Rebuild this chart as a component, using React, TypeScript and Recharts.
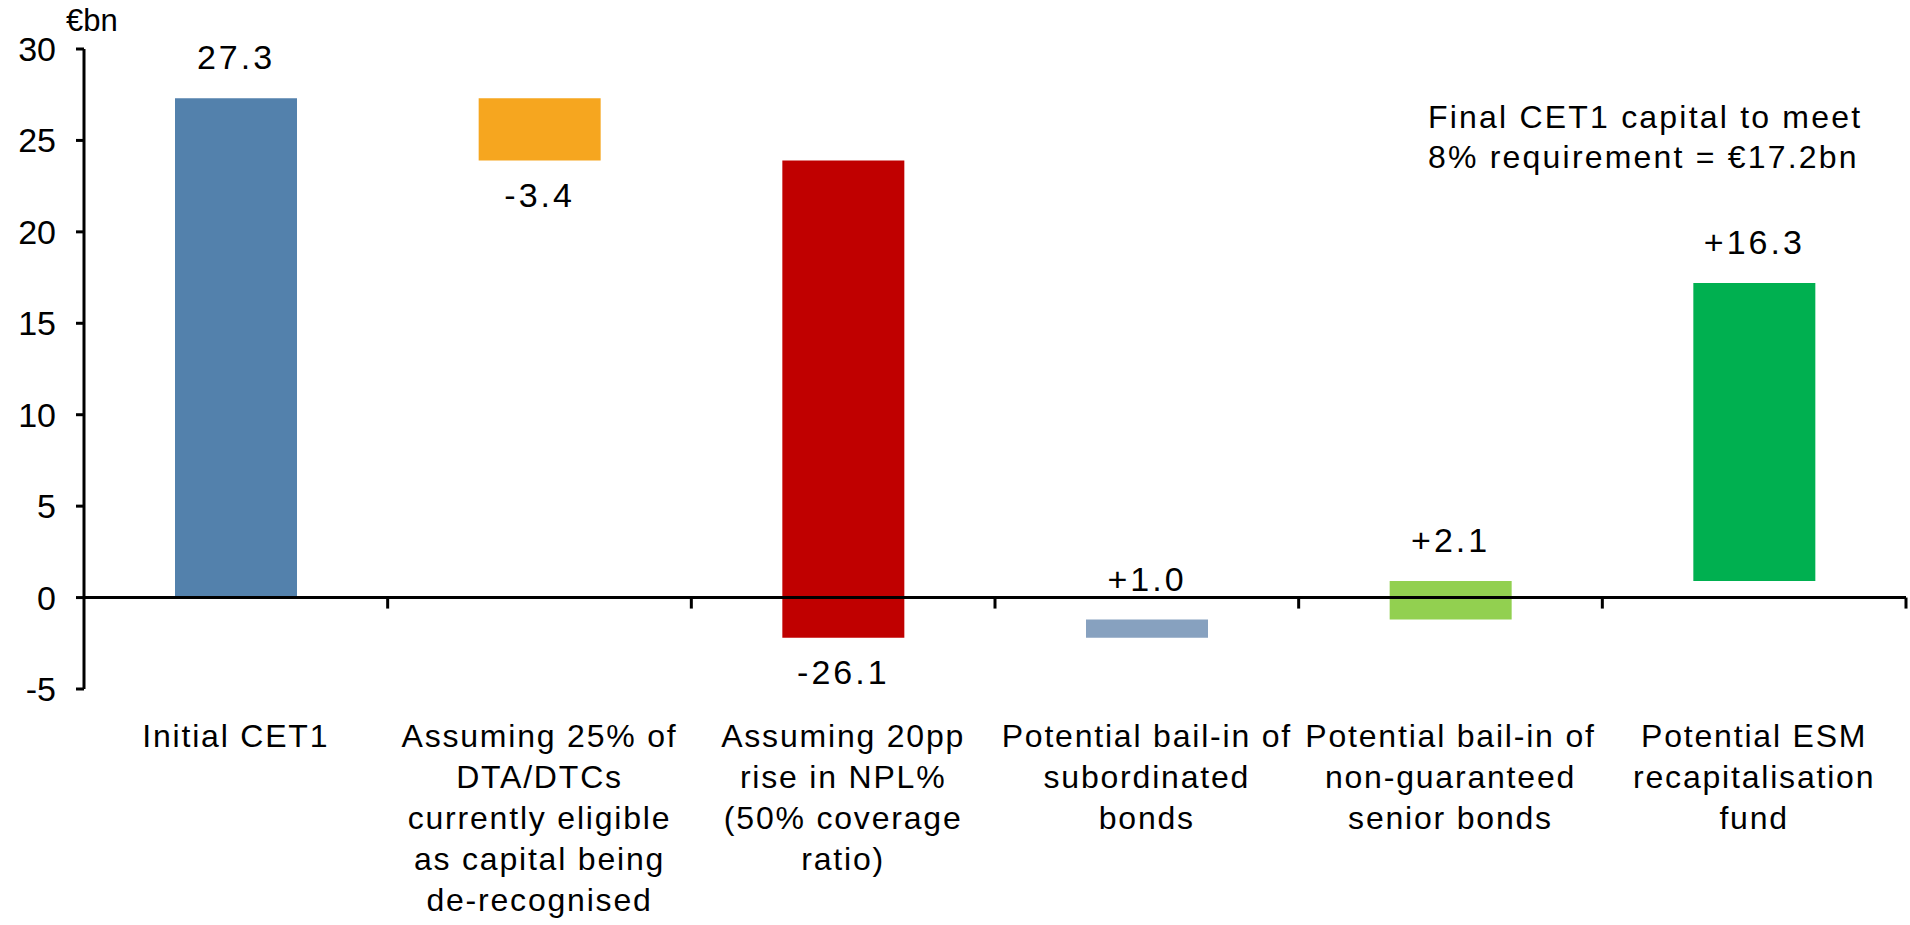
import { Bar, BarChart, Cell, Label, LabelList, ReferenceLine, XAxis, YAxis } from "recharts";

// Capital walk, €bn: starting CET1 then each adjustment in order.
const CATEGORY_LINES: string[][] = [
  ["Initial CET1"],
  ["Assuming 25% of", "DTA/DTCs", "currently eligible", "as capital being", "de-recognised"],
  ["Assuming 20pp", "rise in NPL%", "(50% coverage", "ratio)"],
  ["Potential bail-in of", "subordinated", "bonds"],
  ["Potential bail-in of", "non-guaranteed", "senior bonds"],
  ["Potential ESM", "recapitalisation", "fund"],
];
const CHANGES = [27.3, -3.4, -26.1, 1.0, 2.1, 16.3];
const BAR_COLORS = ["#5381ac", "#f6a61f", "#c00000", "#87a1bf", "#92d050", "#00b050"];
const Y_TICKS = [-5, 0, 5, 10, 15, 20, 25, 30];

const FONT = "'Liberation Sans', Arial, sans-serif";
const W = 1910;
const H = 925;

type Row = { name: string; range: [number, number]; change: number; label: string };

const rows: Row[] = [];
let running = 0;
CHANGES.forEach((c, i) => {
  const start = running;
  running = Math.round((running + c) * 10) / 10;
  rows.push({
    name: String(i),
    range: [Math.min(start, running), Math.max(start, running)],
    change: c,
    label: i === 0 ? c.toFixed(1) : (c > 0 ? "+" : "") + c.toFixed(1),
  });
});
const finalTotal = running;

function CategoryTick(props: any) {
  const { x, y, payload } = props;
  const lines = CATEGORY_LINES[Number(payload.value)] ?? [];
  return (
    <text
      x={x}
      y={y}
      textAnchor="middle"
      fontFamily={FONT}
      fontSize={32}
      letterSpacing={1.8}
      fill="#000"
    >
      {lines.map((l, i) => (
        <tspan key={i} x={x} y={y + 50 + i * 41}>
          {l}
        </tspan>
      ))}
    </text>
  );
}

function ValueLabel(props: any) {
  const { x, y, width, height, value, index } = props;
  const top = Math.min(y, y + height);
  const bottom = Math.max(y, y + height);
  const neg = CHANGES[index] < 0;
  return (
    <text
      x={x + width / 2}
      y={neg ? bottom + 34 : top - 41}
      textAnchor="middle"
      dominantBaseline="central"
      fontFamily={FONT}
      fontSize={34}
      letterSpacing={3}
      fill="#000"
    >
      {value}
    </text>
  );
}

// zero line with category boundary ticks hanging below it
function ZeroLine(props: any) {
  const { x1, y1, x2, y2 } = props;
  const n = rows.length;
  const step = (x2 - x1) / n;
  return (
    <g>
      <line x1={x1} y1={y1} x2={x2} y2={y2} stroke="#000" strokeWidth={3} />
      {rows.map((_, i) => (
        <line
          key={i}
          x1={x1 + step * (i + 1)}
          x2={x1 + step * (i + 1)}
          y1={y1}
          y2={y1 + 11}
          stroke="#000"
          strokeWidth={3}
        />
      ))}
    </g>
  );
}

export default function App() {
  return (
    <div style={{ position: "absolute", left: 0, top: 0, width: W, height: H, background: "#fff" }}>
      <BarChart
        width={W}
        height={H}
        data={rows}
        margin={{ top: 49, right: 4, bottom: 0, left: 0 }}
        barCategoryGap={0}
      >
        <XAxis
          dataKey="name"
          axisLine={false}
          tickLine={false}
          interval={0}
          height={236}
          tick={<CategoryTick />}
        />
        <YAxis
          domain={[-5, 30]}
          ticks={Y_TICKS}
          width={84}
          axisLine={{ stroke: "#000", strokeWidth: 3 }}
          tickLine={{ stroke: "#000", strokeWidth: 3 }}
          tickSize={8}
          tickMargin={20}
          tick={{ fontSize: 34, fontFamily: FONT, fill: "#000" }}
        >
          <Label
            content={(p: any) => (
              <text
                x={p.viewBox.x + p.viewBox.width - 18}
                y={p.viewBox.y - 18}
                fontFamily={FONT}
                fontSize={31}
                fill="#000"
              >
                €bn
              </text>
            )}
          />
        </YAxis>
        <ReferenceLine y={0} shape={<ZeroLine />} />
        <Bar dataKey="range" barSize={122} isAnimationActive={false}>
          {rows.map((r, i) => (
            <Cell key={r.name} fill={BAR_COLORS[i]} />
          ))}
          <LabelList dataKey="label" content={<ValueLabel />} />
        </Bar>
      </BarChart>
      <div
        style={{
          position: "absolute",
          left: 1428,
          top: 97,
          fontFamily: FONT,
          fontSize: 32,
          lineHeight: "40px",
          letterSpacing: 2.2,
          color: "#000",
          whiteSpace: "nowrap",
        }}
      >
        Final CET1 capital to meet
        <br />
        8% requirement = €{finalTotal.toFixed(1)}bn
      </div>
    </div>
  );
}
